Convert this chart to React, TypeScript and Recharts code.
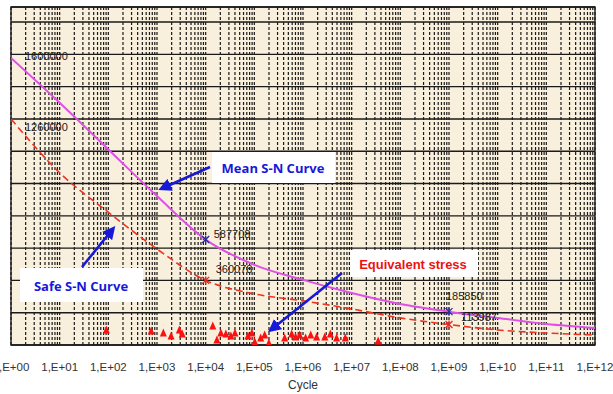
import React from 'react';
import {
  ComposedChart,
  Line,
  Scatter,
  XAxis,
  YAxis,
  CartesianGrid,
  LabelList,
  ReferenceArea,
} from 'recharts';

// cycles at each decade 1E+00 .. 1E+12
const decades = [1, 1e1, 1e2, 1e3, 1e4, 1e5, 1e6, 1e7, 1e8, 1e9, 1e10, 1e11, 1e12];
const tickLabels = [
  '1,E+00', '1,E+01', '1,E+02', '1,E+03', '1,E+04', '1,E+05', '1,E+06',
  '1,E+07', '1,E+08', '1,E+09', '1,E+10', '1,E+11', '1,E+12',
];

// mean S-N curve (magenta), read per decade
const meanStress = [1600000, 1350000, 1090000, 830000, 587708, 447000, 363000, 290000, 229000, 185850, 151000, 117000, 95000];
// safe S-N curve (red dashed)
const safeStress = [1260000, 960000, 740000, 535000, 360078, 285000, 246000, 201000, 151000, 113987, 84000, 67000, 56000];
// points that carry a value label / marker
const labelled = [0, 4, 9];

// equivalent stress points
const eqCycles = [91, 760, 1350, 1950, 2880, 3300, 14000, 17000, 20500, 26000, 33000, 40000, 74000, 89000, 102000, 135000, 163000, 199000, 420000, 585000, 705000, 850000, 1130000, 1440000, 1900000, 2800000, 3650000, 4900000, 7400000, 35000000];
const eqStress = [84000, 78000, 67000, 50000, 84000, 61000, 106000, 28000, 67000, 61000, 50000, 67000, 50000, 67000, 17000, 39000, 56000, 11000, 39000, 61000, 45000, 56000, 39000, 56000, 45000, 45000, 61000, 39000, 39000, 22000];

const yTicks = [0, 180000, 360000, 540000, 720000, 900000, 1080000, 1260000, 1440000, 1620000, 1800000];
const yMax = 1884000;

// log grid: 1..9 x each decade
const xTicks: number[] = [];
decades.slice(0, -1).forEach(d => {
  for (let k = 1; k < 10; k++) xTicks.push(d * k);
});
xTicks.push(1e12);

const meanData = decades.map((n, i) => ({ n, s: meanStress[i] }));
const safeData = decades.map((n, i) => ({ n, s: safeStress[i] }));
const eqData = eqCycles.map((n, i) => ({ n, s: eqStress[i] }));

// label offsets (px) relative to the point, by series and index
const labelOffsets: Record<string, Record<number, [number, number]>> = {
  mean: { 0: [14, 2], 4: [8, -2], 9: [-3, -12] },
  safe: { 0: [14, 12], 4: [10, -7], 9: [12, -4] },
};

const fmtTick = (v: number) => {
  const e = Math.log10(v);
  return Math.abs(e - Math.round(e)) < 1e-9 ? tickLabels[Math.round(e)] : '';
};

const Star = ({ cx, cy, color }: { cx: number; cy: number; color: string }) => (
  <g stroke={color} strokeWidth={1.3}>
    <line x1={cx - 3.5} y1={cy - 3.5} x2={cx + 3.5} y2={cy + 3.5} />
    <line x1={cx - 3.5} y1={cy + 3.5} x2={cx + 3.5} y2={cy - 3.5} />
    <line x1={cx} y1={cy - 4} x2={cx} y2={cy + 4} />
  </g>
);

const makeDot = (color: string) => (props: any) => {
  const { cx, cy, index } = props;
  if (index === 0 || !labelled.includes(index)) return <g key={`d${index}`} />;
  return <Star key={`d${index}`} cx={cx} cy={cy} color={color} />;
};

const makeLabel = (series: string) => (props: any) => {
  const { x, y, value, index } = props;
  if (!labelled.includes(index)) return null;
  const [dx, dy] = labelOffsets[series][index];
  return (
    <text x={x + dx} y={y + dy} fontSize={11} fill="#222" fontFamily="'Liberation Sans', Arial, sans-serif">
      {value}
    </text>
  );
};

const Triangle = (props: any) => {
  const { cx, cy } = props;
  return <polygon points={`${cx},${cy - 4.5} ${cx - 3.5},${cy + 3.5} ${cx + 3.5},${cy + 3.5}`} fill="#ff1010" />;
};

const blue = '#1818d8';

const Annotations = () => (
  <svg width={613} height={394} style={{ position: 'absolute', left: 0, top: 0, pointerEvents: 'none' }}>
    <defs>
      <marker id="ah" markerWidth="5" markerHeight="5" refX="3" refY="2.5" orient="auto" markerUnits="strokeWidth">
        <path d="M0,0 L5,2.5 L0,5 z" fill={blue} />
      </marker>
    </defs>
    <rect x={212} y={152} width={123} height={31} fill="#fff" />
    <text x={273} y={173} textAnchor="middle" fontSize={13} fontWeight="bold" fill={blue} fontFamily="'Open Sans', sans-serif">
      Mean S-N Curve
    </text>
    <line x1={210} y1={167} x2={163} y2={188} stroke={blue} strokeWidth={2.6} markerEnd="url(#ah)" />

    <rect x={20} y={268} width={123} height={34} fill="#fff" />
    <text x={81} y={291} textAnchor="middle" fontSize={13} fontWeight="bold" fill={blue} fontFamily="'Open Sans', sans-serif">
      Safe S-N Curve
    </text>
    <line x1={82} y1={267} x2={112} y2={230} stroke={blue} strokeWidth={2.6} markerEnd="url(#ah)" />

    <rect x={350} y={250} width={128} height={27} fill="#fff" />
    <text x={413} y={269} textAnchor="middle" fontSize={13} fontWeight="bold" fill="#ee1111" fontFamily="'Liberation Sans', Arial, sans-serif">
      Equivalent stress
    </text>
    <line x1={342} y1={273} x2={272} y2={329} stroke={blue} strokeWidth={2.6} markerEnd="url(#ah)" />
  </svg>
);

export default function App() {
  return (
    <div style={{ position: 'absolute', left: 0, top: 0, width: 613, height: 394, background: '#fff' }}>
      <ComposedChart width={613} height={394} margin={{ top: 7, right: 18, bottom: 0, left: 11 }}>
        <XAxis
          dataKey="n"
          type="number"
          scale="log"
          domain={[1, 1e12]}
          ticks={xTicks}
          allowDataOverflow
          axisLine={false}
          tickLine={false}
          tickMargin={12}
          height={49}
          interval={0}
          tickFormatter={fmtTick}
          tick={{ fill: '#333', fontSize: 11.5, fontFamily: "'Liberation Sans', Arial, sans-serif" }}
          label={{ value: 'Cycle', position: 'insideBottom', offset: 5, fill: '#333', fontSize: 12, fontFamily: "'Liberation Sans', Arial, sans-serif" }}
        />
        <YAxis dataKey="s" type="number" domain={[0, yMax]} ticks={yTicks} allowDataOverflow hide />
        <CartesianGrid vertical={false} stroke="#1a1a1a" strokeWidth={1.4} fill="#f8efdc" fillOpacity={1} />
        <CartesianGrid horizontal={false} stroke="#1a1a1a" strokeWidth={1.2} strokeDasharray="3 2" />
        <ReferenceArea x1={1} x2={1e12} y1={0} y2={yMax} stroke="#1a1a1a" strokeWidth={1.4} fill="none" fillOpacity={0} ifOverflow="visible" />
        <Line
          data={safeData}
          dataKey="s"
          type="monotone"
          stroke="#ee3322"
          strokeWidth={1.6}
          strokeDasharray="7 4"
          dot={makeDot('#ee2222')}
          isAnimationActive={false}
        >
          <LabelList dataKey="s" content={makeLabel('safe')} />
        </Line>
        <Line
          data={meanData}
          dataKey="s"
          type="monotone"
          stroke="#e050e6"
          strokeWidth={2}
          dot={makeDot('#2a2aa0')}
          isAnimationActive={false}
        >
          <LabelList dataKey="s" content={makeLabel('mean')} />
        </Line>
        <Scatter data={eqData} dataKey="s" shape={Triangle} isAnimationActive={false} />
      </ComposedChart>
      <Annotations />
    </div>
  );
}
